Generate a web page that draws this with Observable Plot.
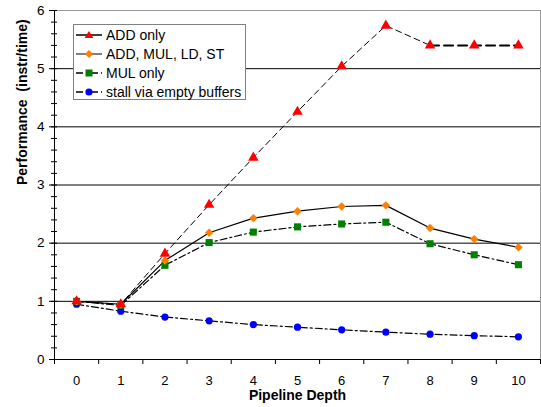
<!DOCTYPE html>
<html>
<head>
<meta charset="utf-8">
<script src="https://cdn.jsdelivr.net/npm/d3@7"></script>
<script src="https://cdn.jsdelivr.net/npm/@observablehq/plot@0.6"></script>
<style>
  body { margin: 0; background: #fff; font-family: "Liberation Sans", Arial, sans-serif; }
  #wrap { position: relative; width: 541px; height: 407px; }
  #legend { position: absolute; left: 73px; top: 24px; width: 173px; height: 76px; background: #fff; border: 1px solid #808080; box-sizing: border-box; font-size: 14px; color: #000; }
  .row { position: absolute; left: 0; height: 19px; display: flex; align-items: center; }
  .row svg { margin-left: 1px; }
  .row span { margin-left: 3px; white-space: nowrap; }
</style>
</head>
<body>
<div id="wrap"><div id="chart"></div><div id="legend"></div></div>
<script>
const depth = [0, 1, 2, 3, 4, 5, 6, 7, 8, 9, 10];
const addOnly = [1.0, 0.95, 1.82, 2.66, 3.47, 4.26, 5.04, 5.74, 5.40, 5.40, 5.40];
const addMulLdSt = [1.0, 0.95, 1.70, 2.18, 2.43, 2.55, 2.63, 2.65, 2.26, 2.07, 1.93];
const mulOnly = [1.0, 0.93, 1.62, 2.01, 2.19, 2.28, 2.33, 2.36, 1.99, 1.80, 1.63];
const stallEmpty = [0.95, 0.83, 0.73, 0.665, 0.60, 0.555, 0.51, 0.47, 0.435, 0.41, 0.39];
const seriesNames = ["ADD only", "ADD, MUL, LD, ST", "MUL only", "stall via empty buffers"];
const yTicks = [0, 1, 2, 3, 4, 5, 6];

const rows = (vals) => depth.map((d, i) => ({x: d, y: vals[i]}));
const A = rows(addOnly), B = rows(addMulLdSt), C = rows(mulOnly), D = rows(stallEmpty);
const minor = d3.range(0, 6.0001, 0.2).map(v => +v.toFixed(1));
const bounds = d3.range(-0.5, 10.51, 1);

const RED = "#ff0000", ORANGE = "#ff7f00", GREEN = "#008000", BLUE = "#0000ff";
const dashA = "6,4", dashDot = "7,3,2,3";

const chart = Plot.plot({
  width: 541, height: 407,
  marginLeft: 54, marginRight: 1, marginTop: 10, marginBottom: 48,
  style: {fontFamily: "'Liberation Sans', Arial, sans-serif", fontSize: "13px", color: "#000", background: "transparent"},
  x: {domain: [-0.5, 10.5]},
  y: {domain: [0, 6]},
  marks: [
    Plot.ruleY([6], {stroke: "#999", strokeWidth: 1}),
    Plot.ruleX([10.5], {stroke: "#999", strokeWidth: 1}),
    Plot.ruleY([1, 2, 3, 4, 5], {stroke: "#000", strokeWidth: 1}),
    Plot.axisY({ticks: yTicks, tickSize: 5, tickPadding: 5, label: null, tickFormat: d3.format("d"), fontSize: 13.5}),
    Plot.axisY({ticks: minor, tickSize: 3, tickFormat: () => "", label: null}),
    Plot.axisY({ticks: minor, tickSize: -3, tickFormat: () => "", label: null}),
    Plot.axisX({ticks: depth, tickSize: 0, tickPadding: 16, tickFormat: d3.format("d"), label: null, fontSize: 13}),
    Plot.axisX({ticks: bounds, tickSize: 5, tickFormat: () => "", label: null}),
    Plot.ruleX([-0.5], {stroke: "#000"}),
    Plot.ruleY([0], {stroke: "#000"}),
    Plot.text(["Pipeline Depth"], {frameAnchor: "bottom", dy: 40, fontWeight: "bold", fontSize: 14}),
    Plot.text(["Performance  (instr/time)"], {frameAnchor: "left", dx: -32, rotate: -90, fontWeight: "bold", fontSize: 14}),
    // lines
    Plot.line(A.filter(d => d.x <= 8), {x: "x", y: "y", stroke: "#000", strokeWidth: 1, strokeDasharray: dashA}),
    Plot.line(A.filter(d => d.x >= 8), {x: "x", y: "y", stroke: "#000", strokeWidth: 2, strokeDasharray: "9,5"}),
    Plot.line(B, {x: "x", y: "y", stroke: "#000", strokeWidth: 1.2}),
    Plot.line(C, {x: "x", y: "y", stroke: "#000", strokeWidth: 1.2, strokeDasharray: dashDot}),
    Plot.line(D, {x: "x", y: "y", stroke: "#000", strokeWidth: 1.2, strokeDasharray: dashDot}),
    // markers
    Plot.dot(D, {x: "x", y: "y", r: 3.6, fill: BLUE, stroke: "none"}),
    Plot.dot(C, {x: "x", y: "y", symbol: "square", r: 4, fill: GREEN, stroke: "none"}),
    Plot.dot(B, {x: "x", y: "y", symbol: d3.symbolDiamond2, r: 3.8, fill: ORANGE, stroke: "none"}),
    Plot.dot(A, {x: "x", y: "y", symbol: "triangle", r: 3.9, fill: RED, stroke: "none"})
  ]
});
document.getElementById("chart").appendChild(chart);

// legend
const legend = document.getElementById("legend");
const samples = [
  {dash: "none", marker: `<path d="M14,5 L18.5,12 L9.5,12 Z" fill="${RED}"/>`},
  {dash: "none", marker: `<path d="M14,5 L18,9 L14,13 L10,9 Z" fill="${ORANGE}"/>`, stroke: "#555"},
  {dash: "7,3,2,3", marker: `<rect x="10.5" y="5.5" width="7" height="7" fill="${GREEN}"/>`},
  {dash: "7,3,2,3", marker: `<circle cx="14" cy="9" r="3.6" fill="${BLUE}"/>`}
];
seriesNames.forEach((name, i) => {
  const s = samples[i];
  const row = document.createElement("div");
  row.className = "row";
  row.style.top = (0 + i * 19) + "px";
  row.innerHTML = `<svg width="28" height="18" viewBox="0 0 28 18"><line x1="1" y1="9" x2="27" y2="9" stroke="${s.stroke || '#000'}" stroke-width="1.5" ${s.dash !== "none" ? `stroke-dasharray="${s.dash}"` : ""}/>${s.marker}</svg><span>${name}</span>`;
  legend.appendChild(row);
});
</script>
</body>
</html>
